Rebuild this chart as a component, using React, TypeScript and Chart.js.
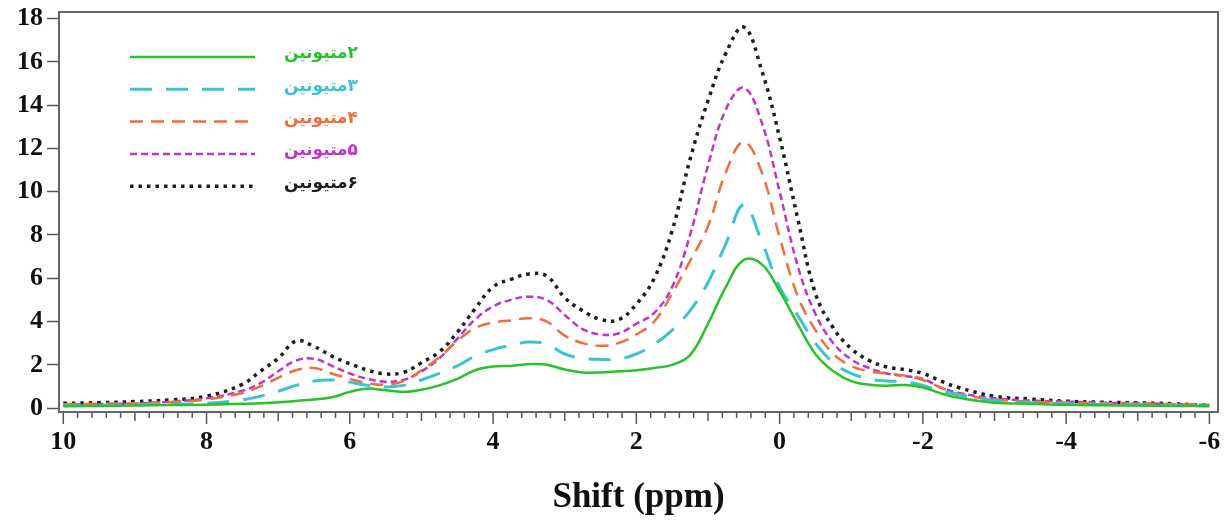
import React, { useEffect, useRef } from 'react';
import { Chart, registerables } from 'chart.js';

Chart.register(...registerables);

// Chemical shift grid (ppm)
const shift = [10, 9.5, 9, 8.5, 8, 7.5, 7.25, 7, 6.75, 6.5, 6.25, 6, 5.75, 5.5, 5.25, 5, 4.75, 4.5, 4.25, 4, 3.75, 3.5, 3.25, 3, 2.75, 2.5, 2.25, 2, 1.75, 1.5, 1.25, 1, 0.75, 0.5, 0.25, 0, -0.25, -0.5, -0.75, -1, -1.25, -1.5, -1.75, -2, -2.25, -2.5, -3, -3.5, -4, -4.5, -5, -5.5, -6];

const series2 = [0.1, 0.1, 0.12, 0.14, 0.16, 0.2, 0.22, 0.27, 0.33, 0.4, 0.5, 0.75, 0.9, 0.82, 0.75, 0.85, 1.05, 1.35, 1.75, 1.92, 1.95, 2.03, 2.0, 1.78, 1.65, 1.65, 1.7, 1.75, 1.85, 2.0, 2.45, 3.9, 5.6, 6.85, 6.65, 5.4, 3.9, 2.5, 1.7, 1.25, 1.08, 1.03, 1.07, 0.95, 0.68, 0.48, 0.25, 0.2, 0.15, 0.13, 0.12, 0.1, 0.1];
const series3 = [0.1, 0.12, 0.15, 0.18, 0.22, 0.38, 0.55, 0.78, 1.05, 1.25, 1.3, 1.2, 1.05, 0.98, 1.05, 1.3, 1.6, 1.95, 2.4, 2.7, 2.9, 3.05, 2.95, 2.5, 2.3, 2.25, 2.27, 2.5, 2.95, 3.6, 4.5, 5.8, 7.6, 9.4, 7.7, 5.6, 4.3, 3.0, 2.1, 1.6, 1.35, 1.25, 1.22, 1.05, 0.8, 0.62, 0.35, 0.25, 0.2, 0.17, 0.15, 0.12, 0.1];
const series4 = [0.18, 0.2, 0.22, 0.28, 0.4, 0.7, 1.0, 1.4, 1.75, 1.85, 1.6, 1.35, 1.15, 1.08, 1.25, 1.75, 2.35, 3.1, 3.7, 3.95, 4.05, 4.15, 4.0, 3.35, 3.0, 2.88, 3.0, 3.4, 4.0, 5.3, 6.8, 8.4, 10.9, 12.3, 10.9, 7.9, 5.2, 3.6, 2.5, 1.95, 1.7, 1.6, 1.5, 1.3, 0.95, 0.65, 0.4, 0.3, 0.25, 0.22, 0.2, 0.18, 0.15];
const series5 = [0.15, 0.18, 0.22, 0.3, 0.45, 0.8, 1.15, 1.7, 2.2, 2.28, 1.95, 1.6, 1.35, 1.22, 1.3, 1.7, 2.3, 3.2, 4.1, 4.7, 5.0, 5.15, 5.0, 4.3, 3.65, 3.4, 3.45, 3.9, 4.4, 5.6, 8.0, 11.2, 13.8, 14.8, 13.2, 10.0, 6.6, 4.35, 3.0, 2.25, 1.85, 1.6, 1.48, 1.35, 0.95, 0.7, 0.45, 0.35, 0.3, 0.25, 0.22, 0.18, 0.15];
const series6 = [0.22, 0.25, 0.3, 0.38, 0.55, 1.1, 1.7, 2.3, 3.1, 2.85, 2.4, 2.05, 1.75, 1.58, 1.65, 2.1, 2.6, 3.5, 4.6, 5.6, 5.95, 6.2, 6.1, 5.1, 4.5, 4.1, 4.08, 4.8, 6.0, 8.2, 11.5, 14.2, 16.4, 17.6, 15.6, 12.5, 8.8, 5.3, 3.7, 2.75, 2.2, 1.9, 1.78, 1.6, 1.25, 0.95, 0.55, 0.42, 0.32, 0.27, 0.24, 0.2, 0.12];

const seriesLabels = ['۲متیونین', '۳متیونین', '۴متیونین', '۵متیونین', '۶متیونین'];
const xLabelTicks = [10, 8, 6, 4, 2, 0, -2, -4, -6];
const yTicks = [0, 2, 4, 6, 8, 10, 12, 14, 16, 18];

const SERIF = '"Liberation Serif", "Times New Roman", serif';

const toPoints = (ys: number[]) => shift.map((x, i) => ({ x, y: ys[i] }));

const framePlugin = {
  id: 'frameAndLegend',
  afterDraw(chart: any) {
    const { ctx, chartArea: a, scales } = chart;
    const x = scales.x;
    ctx.save();
    // x-axis tick marks (major / medium / minor)
    ctx.strokeStyle = '#555';
    ctx.lineWidth = 1.5;
    x.ticks.forEach((t: any) => {
      const r = Math.round(t.value * 5);
      const len = r % 10 === 0 ? 12 : r % 5 === 0 ? 9 : 6;
      const px = x.getPixelForValue(t.value);
      ctx.beginPath();
      ctx.moveTo(px, a.bottom);
      ctx.lineTo(px, a.bottom + len);
      ctx.stroke();
    });
    // frame
    ctx.strokeStyle = '#666';
    ctx.lineWidth = 2;
    ctx.strokeRect(a.left, a.top, a.right - a.left, a.bottom - a.top);

    // legend
    const x0 = 130;
    const x1 = 255;
    const tx = 358;
    chart.data.datasets.forEach((ds: any, i: number) => {
      const y = 57 + i * 32.3;
      ctx.save();
      ctx.strokeStyle = ds.borderColor;
      ctx.lineWidth = ds.borderWidth;
      ctx.setLineDash(ds.borderDash || []);
      ctx.beginPath();
      ctx.moveTo(x0, y);
      ctx.lineTo(x1, y);
      ctx.stroke();
      ctx.restore();
      ctx.save();
      ctx.direction = 'rtl';
      ctx.textAlign = 'right';
      ctx.textBaseline = 'middle';
      ctx.font = 'bold 17px "DejaVu Sans", sans-serif';
      ctx.fillStyle = ds.borderColor;
      ctx.fillText(ds.label, tx, y - 3);
      ctx.restore();
    });
    ctx.restore();
  },
};

export default function App() {
  const ref = useRef<HTMLCanvasElement | null>(null);

  useEffect(() => {
    if (!ref.current) return;
    const common = { pointRadius: 0, fill: false, tension: 0.4 };
    const chart = new Chart(ref.current, {
      type: 'line',
      data: {
        datasets: [
          { ...common, label: seriesLabels[0], data: toPoints(series2), borderColor: 'rgb(40,195,40)', borderWidth: 2.5, borderDash: [] },
          { ...common, label: seriesLabels[1], data: toPoints(series3), borderColor: 'rgb(60,195,210)', borderWidth: 3, borderDash: [22, 14] },
          { ...common, label: seriesLabels[2], data: toPoints(series4), borderColor: 'rgb(240,110,60)', borderWidth: 2.5, borderDash: [13, 8] },
          { ...common, label: seriesLabels[3], data: toPoints(series5), borderColor: 'rgb(195,50,205)', borderWidth: 2.5, borderDash: [7, 4] },
          { ...common, label: seriesLabels[4], data: toPoints(series6), borderColor: 'rgb(30,30,30)', borderWidth: 3.5, borderDash: [3.5, 5] },
        ],
      },
      options: {
        animation: false,
        responsive: true,
        maintainAspectRatio: false,
        layout: { padding: { left: 0, right: 8, top: 0, bottom: 0 } },
        plugins: { legend: { display: false }, tooltip: { enabled: false } },
        scales: {
          x: {
            type: 'linear',
            reverse: true,
            min: -6.12,
            max: 10.06,
            border: { display: false },
            grid: { display: true, drawOnChartArea: false, drawTicks: true, tickLength: 12, tickColor: 'rgba(0,0,0,0)' },
            afterBuildTicks: (axis: any) => {
              const vals: number[] = [];
              const lo = xLabelTicks[xLabelTicks.length - 1];
              const hi = xLabelTicks[0];
              for (let i = Math.round(lo * 5); i <= Math.round(hi * 5); i++) vals.push(i / 5);
              axis.ticks = vals.map((v) => ({ value: v }));
            },
            afterFit: (axis: any) => { axis.height = 110; },
            ticks: {
              autoSkip: false,
              maxRotation: 0,
              minRotation: 0,
              padding: 3,
              color: '#111',
              font: { family: SERIF, size: 26, weight: 'bold' },
              callback: (v: any) => {
                const n = Number(v);
                return xLabelTicks.some((t) => Math.abs(t - n) < 1e-6) ? String(Math.round(n)) : '';
              },
            },
            title: {
              display: true,
              text: 'Shift (ppm)',
              color: '#111',
              font: { family: SERIF, size: 35, weight: 'bold' },
              padding: { top: 0, bottom: 3 },
            },
          },
          y: {
            type: 'linear',
            min: -0.18,
            max: 18.3,
            border: { display: false },
            grid: { display: true, drawOnChartArea: false, drawTicks: true, tickLength: 12, tickColor: '#555', tickWidth: 1.5 },
            afterBuildTicks: (axis: any) => { axis.ticks = yTicks.map((v) => ({ value: v })); },
            afterFit: (axis: any) => { axis.width = 59; axis.paddingTop = 12; },
            ticks: {
              padding: 4,
              color: '#111',
              font: { family: SERIF, size: 26, weight: 'bold', lineHeight: 1 },
              callback: (v: any) => String(v),
            },
          },
        },
      },
      plugins: [framePlugin],
    });
    return () => chart.destroy();
  }, []);

  return (
    <div style={{ position: 'absolute', left: 0, top: 0, width: 1226, height: 522, background: '#fff' }}>
      <canvas ref={ref} />
    </div>
  );
}
